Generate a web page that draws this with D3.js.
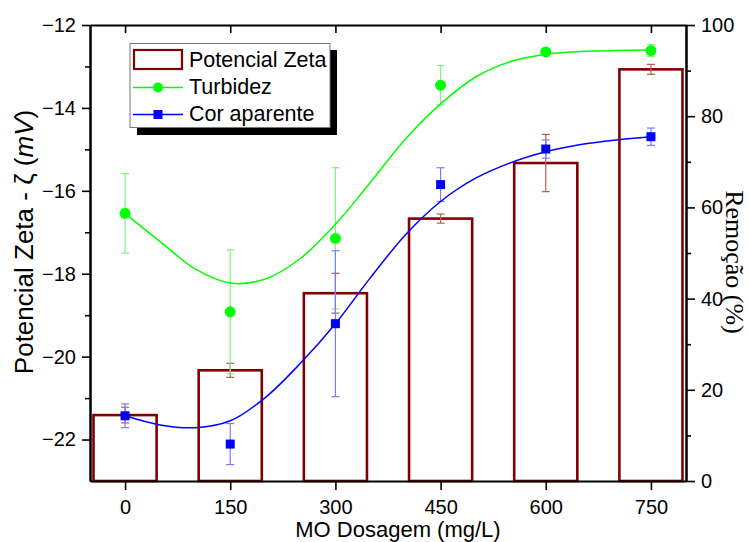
<!DOCTYPE html>
<html>
<head>
<meta charset="utf-8">
<script src="https://cdn.jsdelivr.net/npm/d3@7"></script>
<style>
html,body{margin:0;padding:0;background:#fff;}
svg{display:block;font-family:"Liberation Sans",Arial,sans-serif;}
</style>
</head>
<body>
<svg id="chart" width="749" height="542"></svg>
<script>
// ---- data ----
const categories = [0, 150, 300, 450, 600, 750];
const zeta = [-21.41, -20.33, -18.47, -16.67, -15.33, -13.07];
const zetaErr = [0.19, 0.17, 0.48, 0.11, 0.69, 0.12];
const turbidez = [58.7, 37.1, 53.2, 86.8, 94.1, 94.4];
const turbidezErr = [8.7, 13.6, 15.5, 4.3, 0, 1.3];
const cor = [14.3, 8.1, 34.5, 65.0, 72.8, 75.5];
const corErr = [2.6, 4.5, 16.0, 3.7, 2.0, 1.9];
// fitted curves
const fitX = [0, 50, 100, 150, 200, 250, 300, 350, 400, 450, 500, 550, 600, 650, 700, 750];
const turbidezFit = [58.7, 52.5, 46.5, 43.4, 44.3, 48.8, 56.3, 65.5, 75.0, 82.7, 88.6, 92.0, 93.6, 94.2, 94.4, 94.5];
const corFit = [14.3, 12.3, 11.7, 13.2, 18.3, 25.8, 34.5, 44.6, 54.0, 61.3, 66.4, 69.8, 72.2, 73.8, 74.8, 75.5];
const leftTicks = [-22, -20, -18, -16, -14, -12];
const leftMinor = [-21, -19, -17, -15, -13];
const rightTicks = [0, 20, 40, 60, 80, 100];
const rightMinor = [10, 30, 50, 70, 90];
const legendLabels = ["Potencial Zeta", "Turbidez", "Cor aparente"];

// ---- layout ----
const svg = d3.select("#chart");
const L = 90, R = 686, T = 25, B = 481;
const x = d3.scaleLinear().domain([-50, 800]).range([L, R]);
const yL = d3.scaleLinear().domain([-23, -12]).range([B, T]);
const yR = d3.scaleLinear().domain([0, 100]).range([B, T]);
const barHalf = 45;
const RED = "#800000", GREEN = "#00ff00", BLUE = "#0000ff";

// bars
svg.append("g").selectAll("rect").data(categories).join("rect")
  .attr("x", d => x(d - barHalf))
  .attr("width", d => x(d + barHalf) - x(d - barHalf))
  .attr("y", (d, i) => yL(zeta[i]))
  .attr("height", (d, i) => B - yL(zeta[i]))
  .attr("fill", "none").attr("stroke", RED).attr("stroke-width", 2.6);

function errBars(vals, errs, yS, color, cap) {
  const g = svg.append("g").attr("stroke", color).attr("stroke-width", 1.2);
  categories.forEach((c, i) => {
    if (!errs[i]) return;
    const cx = x(c), y1 = yS(vals[i] + errs[i]), y2 = yS(vals[i] - errs[i]);
    g.append("line").attr("x1", cx).attr("x2", cx).attr("y1", y1).attr("y2", y2);
    g.append("line").attr("x1", cx - cap).attr("x2", cx + cap).attr("y1", y1).attr("y2", y1);
    g.append("line").attr("x1", cx - cap).attr("x2", cx + cap).attr("y1", y2).attr("y2", y2);
  });
}
errBars(zeta, zetaErr, yL, "#b85a5a", 4);
errBars(turbidez, turbidezErr, yR, "#7cf57c", 4);
errBars(cor, corErr, yR, "#7a7aff", 4);

// curves
const line = d3.line().curve(d3.curveCatmullRom.alpha(0.5));
svg.append("path").attr("d", line(fitX.map((d, i) => [x(d), yR(turbidezFit[i])])))
  .attr("fill", "none").attr("stroke", GREEN).attr("stroke-width", 1.5);
svg.append("path").attr("d", line(fitX.map((d, i) => [x(d), yR(corFit[i])])))
  .attr("fill", "none").attr("stroke", BLUE).attr("stroke-width", 1.5);

// markers
svg.append("g").selectAll("circle").data(categories).join("circle")
  .attr("cx", d => x(d)).attr("cy", (d, i) => yR(turbidez[i])).attr("r", 5.5).attr("fill", GREEN);
svg.append("g").selectAll("rect").data(categories).join("rect")
  .attr("x", d => x(d) - 4.5).attr("y", (d, i) => yR(cor[i]) - 4.5)
  .attr("width", 9).attr("height", 9).attr("fill", BLUE);

// axes
function styleAxis(g) {
  g.select(".domain").attr("stroke", "#000").attr("stroke-width", 2);
  g.selectAll(".tick line").attr("stroke", "#000").attr("stroke-width", 1.6);
  g.selectAll(".tick text").attr("fill", "#000").style("font-size", "20px")
    .style("font-family", "'Liberation Sans', Arial, sans-serif");
}
const gB = svg.append("g").attr("transform", `translate(0,${B})`)
  .call(d3.axisBottom(x).tickValues(categories).tickSize(9).tickSizeOuter(0).tickPadding(10));
styleAxis(gB);
const gT = svg.append("g").attr("transform", `translate(0,${T})`)
  .call(d3.axisTop(x).tickValues(categories).tickSize(-8).tickSizeOuter(0).tickFormat(""));
styleAxis(gT);
const gLm = svg.append("g").attr("transform", `translate(${L},0)`)
  .call(d3.axisLeft(yL).tickValues(leftMinor).tickSize(5).tickSizeOuter(0).tickFormat(""));
styleAxis(gLm);
const gL = svg.append("g").attr("transform", `translate(${L},0)`)
  .call(d3.axisLeft(yL).tickValues(leftTicks).tickSize(8).tickSizeOuter(0).tickPadding(6));
styleAxis(gL);
const gRm = svg.append("g").attr("transform", `translate(${R},0)`)
  .call(d3.axisRight(yR).tickValues(rightMinor).tickSize(5).tickSizeOuter(0).tickFormat(""));
styleAxis(gRm);
const gR = svg.append("g").attr("transform", `translate(${R},0)`)
  .call(d3.axisRight(yR).tickValues(rightTicks).tickSize(9).tickSizeOuter(0).tickPadding(6));
styleAxis(gR);

// axis titles
svg.append("text").attr("x", 398).attr("y", 537).attr("text-anchor", "middle")
  .style("font-size", "22px").text("MO Dosagem (mg/L)");
const lt = svg.append("text").attr("transform", "translate(33,242) rotate(-90)")
  .attr("text-anchor", "middle").style("font-size", "26px");
lt.append("tspan").text("Potencial Zeta - ζ (");
lt.append("tspan").style("font-style", "italic").text("mV");
lt.append("tspan").text(")");
svg.append("text").attr("transform", "translate(726,262) rotate(90)")
  .attr("text-anchor", "middle")
  .style("font-family", "'Liberation Serif', 'Times New Roman', serif").style("font-size", "26px")
  .text("Remoção (%)");

// legend
const lg = svg.append("g");
lg.append("rect").attr("x", 137).attr("y", 50).attr("width", 200).attr("height", 85).attr("fill", "#000");
lg.append("rect").attr("x", 130).attr("y", 43.5).attr("width", 200).attr("height", 84)
  .attr("fill", "#fff").attr("stroke", "#777").attr("stroke-width", 1);
lg.append("rect").attr("x", 134).attr("y", 50).attr("width", 48).attr("height", 19)
  .attr("fill", "none").attr("stroke", RED).attr("stroke-width", 2.2);
lg.append("line").attr("x1", 133).attr("x2", 183).attr("y1", 87.5).attr("y2", 87.5)
  .attr("stroke", GREEN).attr("stroke-width", 1.3);
lg.append("circle").attr("cx", 158).attr("cy", 87.5).attr("r", 5).attr("fill", GREEN);
lg.append("line").attr("x1", 133).attr("x2", 183).attr("y1", 114.5).attr("y2", 114.5)
  .attr("stroke", BLUE).attr("stroke-width", 1.3);
lg.append("rect").attr("x", 153.5).attr("y", 110).attr("width", 9).attr("height", 9).attr("fill", BLUE);
const ly = [67, 94, 121];
legendLabels.forEach((t, i) => {
  lg.append("text").attr("x", 189).attr("y", ly[i]).style("font-size", "21.5px").text(t);
});
</script>
</body>
</html>
